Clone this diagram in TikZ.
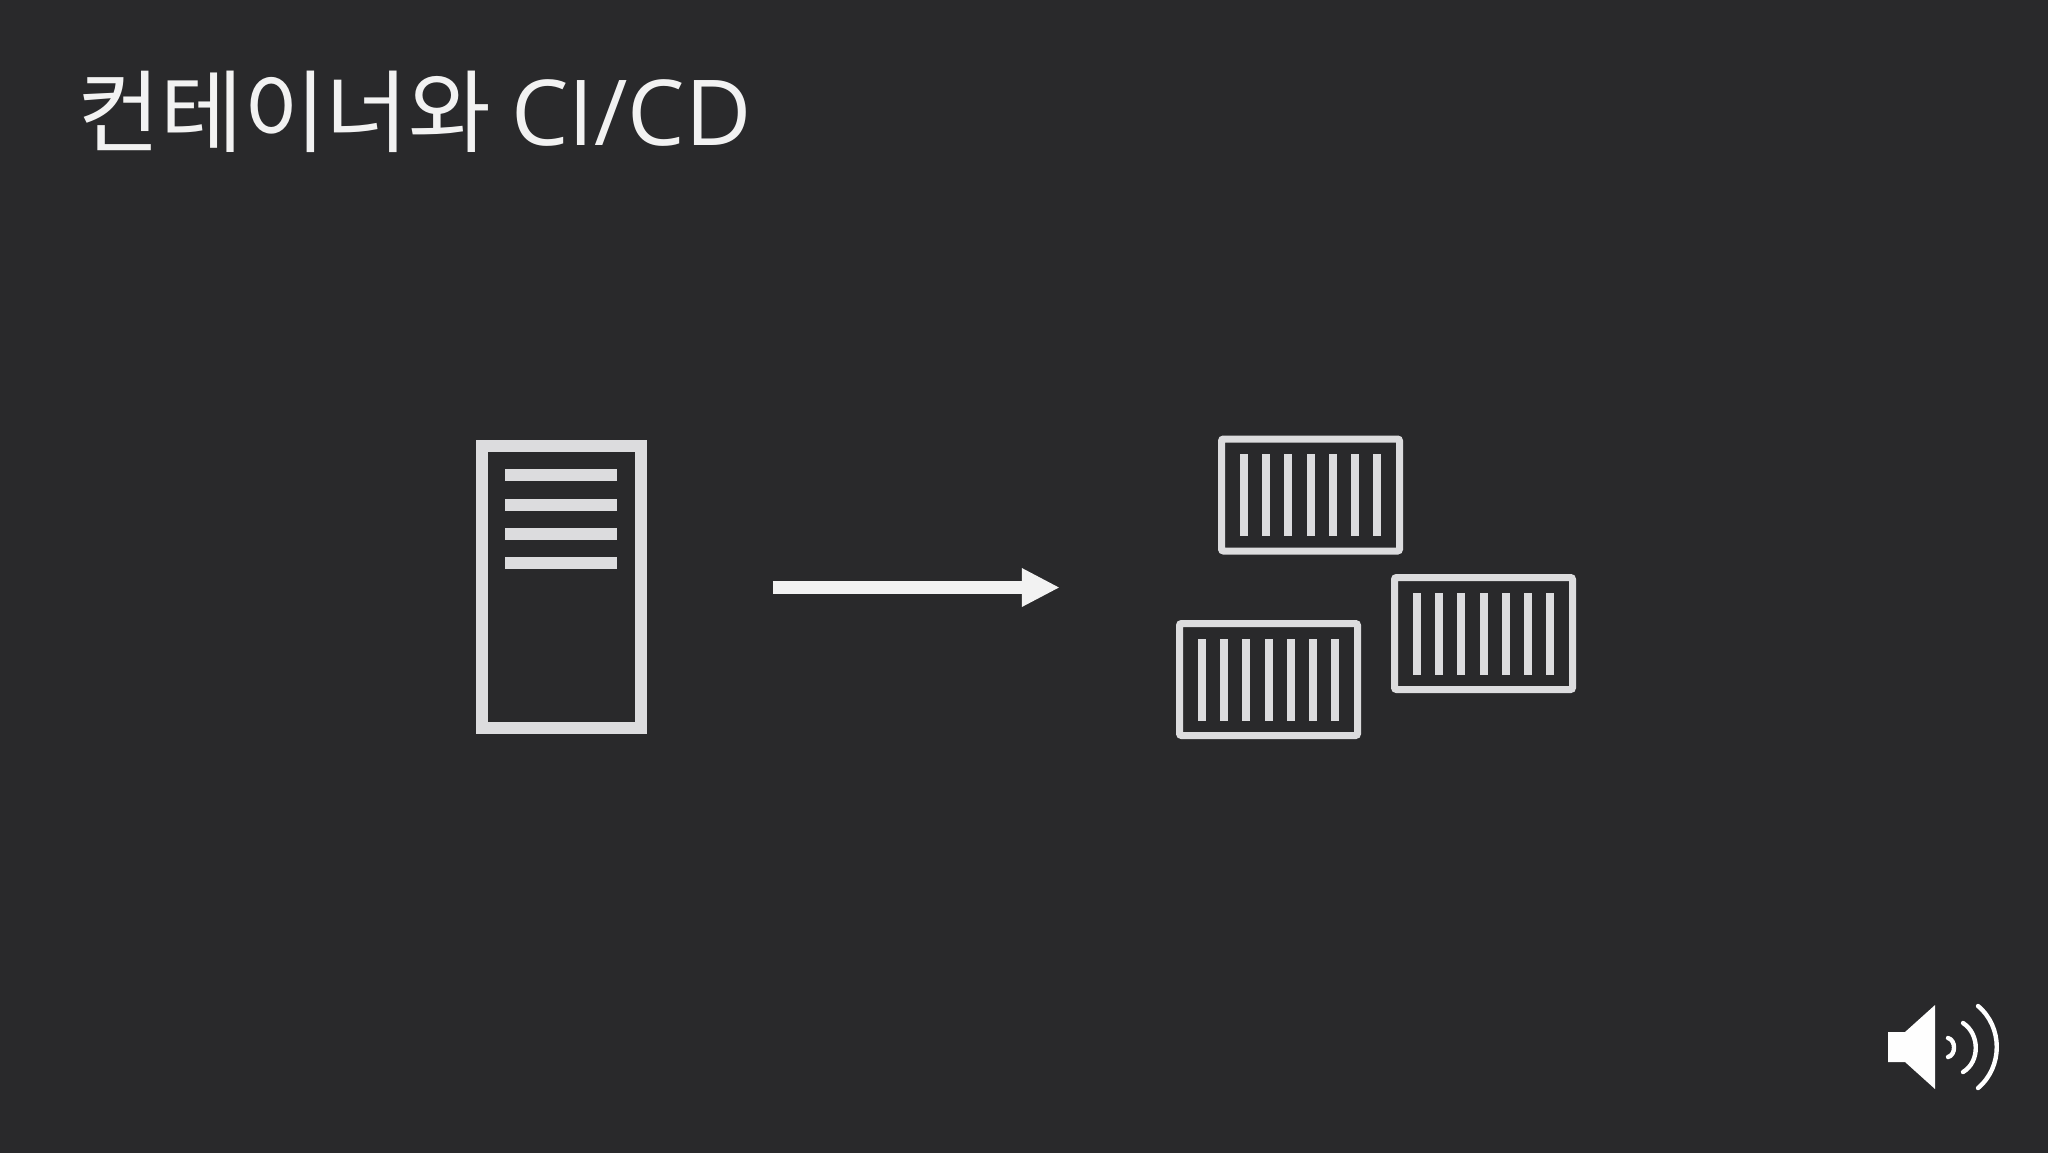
\documentclass[tikz,border=0pt]{standalone}
\usepackage{fontspec}
\newfontfamily\cjk{Noto Sans CJK KR}
\newfontfamily\latinfont{Open Sans}
\usetikzlibrary{arrows.meta}
\definecolor{slide}{HTML}{29292B}
\definecolor{icon}{HTML}{DCDCDE}
\definecolor{bright}{HTML}{F2F2F2}
\begin{document}
\begin{tikzpicture}[
    x=0.5pt, y=-0.5pt,
    title/.style={anchor=base west, inner sep=0pt, text=bright, font=\cjk\fontsize{45}{50}\selectfont},
    tower/.style={draw=icon, line width=5.85pt, minimum width=79.5pt, minimum height=141.15pt, inner sep=0pt},
    towerbar/.style={fill=icon, minimum width=56pt, minimum height=6pt, inner sep=0pt},
    crate/.style={draw=icon, line width=3.5pt, rounded corners=1pt, minimum width=89pt, minimum height=56pt, inner sep=0pt},
    slat/.style={fill=icon, minimum width=4pt, minimum height=41pt, inner sep=0pt},
    deploy/.style={-{Triangle[length=19pt, width=18pt]}, bright, line width=6.35pt},
    wave/.style={draw=white, line width=2.2pt, line cap=round}
]
    \useasboundingbox (0,0) rectangle (2048,1152);

    % Background
    \fill[slide] (-10,-10) rectangle (2058,1162);

    % Title
    \node[title] (heading) at (77,145) {컨테이너와 {\latinfont\fontsize{45.5}{50}\selectfont CI/CD}};

    % Server
    \node[tower] (server) at (561.2,587) {};
    \foreach \i/\y in {1/475.3, 2/504.7, 3/534, 4/563.3}
        \node[towerbar] (bar\i) at (561.4,\y) {};

    % Containers
    \foreach \name/\cx/\cy in {top/1310.5/495, right/1483.5/633.5, left/1268.5/679.5} {
        \node[crate] (\name) at (\cx,\cy) {};
        \foreach \i in {-3,...,3}
            \node[slat] (\name slat\i) at (\cx+\i*22.2,\cy) {};
    }

    % Arrow
    \coordinate (from) at (772.8,587.5);
    \coordinate (to) at (1059.8,587.5);
    \draw[deploy] (from) -- (to);

    % Speaker
    \fill[white!97!icon] (1888,1032) -- (1905,1032) -- (1935,1005) -- (1935,1089) -- (1905,1062) -- (1888,1062) -- cycle;
    \draw[wave] (1948,1038) .. controls (1956,1040) and (1956,1055) .. (1948,1057);
    \draw[wave] (1963,1023) .. controls (1980,1034) and (1980,1062) .. (1963,1072);
    \draw[wave] (1978,1006) .. controls (2003,1027) and (2003,1067) .. (1978,1088);
\end{tikzpicture}
\end{document}
